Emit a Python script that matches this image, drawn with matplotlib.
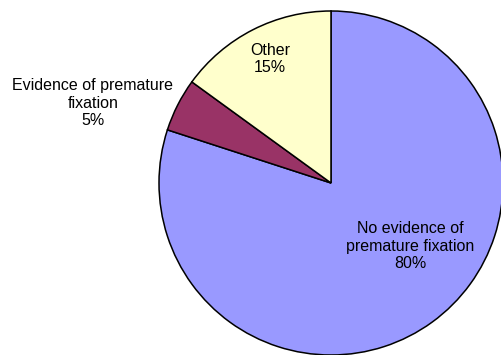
import matplotlib
matplotlib.use("Agg")
import matplotlib.pyplot as plt

# Slices in clockwise order starting from 12 o'clock
categories = ["No evidence of\npremature fixation", "Evidence of premature\nfixation", "Other"]
shares = [80, 5, 15]
colors = ["#9999FF", "#993366", "#FFFFCC"]

# label centres in pixel coordinates (x, y from top)
label_pos = [(410, 246), (93, 103), (270, 59)]

plt.rcParams['font.family'] = ['Liberation Sans', 'DejaVu Sans']

fig = plt.figure(figsize=(5.01, 3.55), dpi=100)
ax = fig.add_axes([0, 0, 1, 1])

ax.pie(shares, colors=colors, startangle=90, counterclock=False,
       center=(331, 355 - 183), radius=172,
       wedgeprops=dict(edgecolor='black', linewidth=1.1), frame=True)
ax.set_xlim(0, 501)
ax.set_ylim(0, 355)
ax.set_aspect('equal')
ax.axis('off')

for name, val, (x, y) in zip(categories, shares, label_pos):
    ax.text(x, 355 - y, f"{name}\n{val}%", ha='center', va='center',
            fontsize=11.5, linespacing=1.2, color='black')

fig.savefig("out.png", dpi=100)
